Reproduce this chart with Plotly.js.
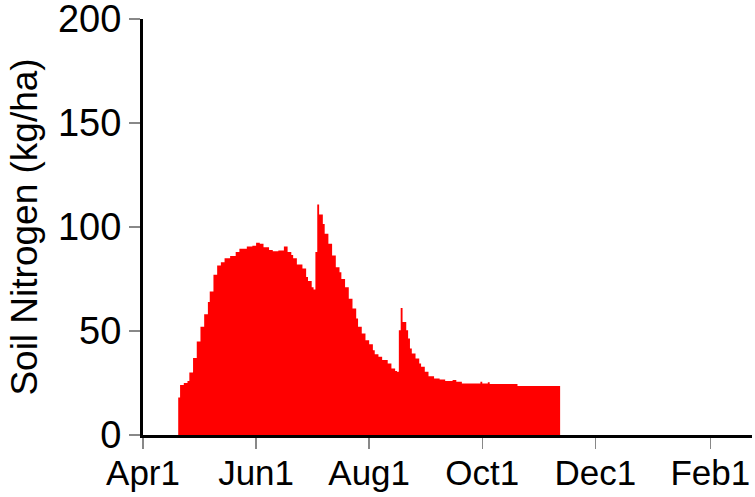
<!DOCTYPE html>
<html>
<head>
<meta charset="utf-8">
<script src="https://cdn.plot.ly/plotly-3.0.1.min.js"></script>
<style>html,body{margin:0;padding:0;background:#fff;}#chart{width:755px;height:497px;}</style>
</head>
<body>
<div id="chart"></div>
<script>
const dates = [
  "2023-04-20","2023-04-21","2023-04-23","2023-04-25","2023-04-26","2023-04-28","2023-04-30",
  "2023-05-02","2023-05-04","2023-05-06","2023-05-07","2023-05-09","2023-05-11","2023-05-13",
  "2023-05-15","2023-05-18","2023-05-21","2023-05-23","2023-05-27","2023-05-30",
  "2023-06-01","2023-06-03","2023-06-05","2023-06-08","2023-06-10","2023-06-13","2023-06-16",
  "2023-06-18","2023-06-20","2023-06-21","2023-06-23","2023-06-26","2023-06-28","2023-06-29",
  "2023-07-01","2023-07-02","2023-07-03","2023-07-04","2023-07-05","2023-07-07","2023-07-08",
  "2023-07-10","2023-07-12","2023-07-14","2023-07-16","2023-07-17","2023-07-19","2023-07-21",
  "2023-07-23","2023-07-25","2023-07-26","2023-07-28","2023-07-30",
  "2023-08-01","2023-08-03","2023-08-04","2023-08-06","2023-08-08","2023-08-11","2023-08-13",
  "2023-08-15","2023-08-16","2023-08-17","2023-08-18","2023-08-19","2023-08-21","2023-08-22",
  "2023-08-23","2023-08-24","2023-08-26","2023-08-28","2023-08-29","2023-08-31",
  "2023-09-02","2023-09-05","2023-09-08","2023-09-11","2023-09-15","2023-09-17","2023-09-20",
  "2023-09-30","2023-10-01","2023-10-04","2023-10-05","2023-10-20","2023-11-12"
];
const soilN = [
  18,24,25,26,30,37,45,
  52,58,64,69,77,81.5,83,
  85,86,88,89.5,90.6,91,
  92.4,92,90.3,89,88.4,88.7,90.6,
  88,86.5,85,82,80,76,74,
  71,70,88,110.8,106,101.5,96.7,
  92,86.3,80.7,78.3,75,71,65.5,
  60.8,56,52,48.8,45.6,
  43.6,40.8,38.8,37.6,36,34.4,32,
  30.8,30.4,50.4,61,54.3,50.4,46.4,
  41.6,39.2,36.8,34.4,32.8,30.4,
  28.3,27.2,26.7,26,26.4,25.6,24.8,
  25.6,24.8,25.4,24.5,23.5,0
];
const tickDates = ["2023-04-01","2023-06-01","2023-08-01","2023-10-01","2023-12-01","2024-02-01"];
const tickLabels = ["Apr1","Jun1","Aug1","Oct1","Dec1","Feb1"];
const yTicks = [0,50,100,150,200];

const trace = {
  x: dates, y: soilN, type: "scatter", mode: "lines",
  line: {shape: "hv", width: 0, color: "#ff0000"},
  fill: "tozeroy", fillcolor: "#ff0000", hoverinfo: "x+y"
};
const fam = "Liberation Sans, Arial, sans-serif";
const layout = {
  width: 755, height: 497,
  margin: {l: 143, r: 3, t: 19, b: 62, pad: 0},
  paper_bgcolor: "#fff", plot_bgcolor: "#fff",
  showlegend: false,
  font: {family: fam, size: 35, color: "#000"},
  xaxis: {
    type: "date", range: ["2023-04-01", "2024-02-23 12:00"],
    tickmode: "array", tickvals: tickDates, ticktext: tickLabels,
    ticks: "outside", ticklen: 11, tickwidth: 1.5, tickcolor: "#888",
    showline: true, linecolor: "#000", linewidth: 3,
    showgrid: false, zeroline: false, tickfont: {family: fam, size: 35, color: "#000"},
    automargin: false, ticklabeloverflow: "allow", ticklabelstandoff: -6
  },
  yaxis: {
    range: [0, 200], tickmode: "array", tickvals: yTicks,
    ticks: "outside", ticklen: 11, tickwidth: 1.5, tickcolor: "#888",
    showline: true, linecolor: "#000", linewidth: 3,
    showgrid: false, zeroline: false, tickfont: {family: fam, size: 38, color: "#000"},
    automargin: false, ticklabeloverflow: "allow",
    title: {text: "Soil Nitrogen (kg/ha)", font: {family: fam, size: 37, color: "#000"}, standoff: 10}
  }
};
Plotly.newPlot("chart", [trace], layout, {displayModeBar: false, staticPlot: true});
</script>
</body>
</html>
